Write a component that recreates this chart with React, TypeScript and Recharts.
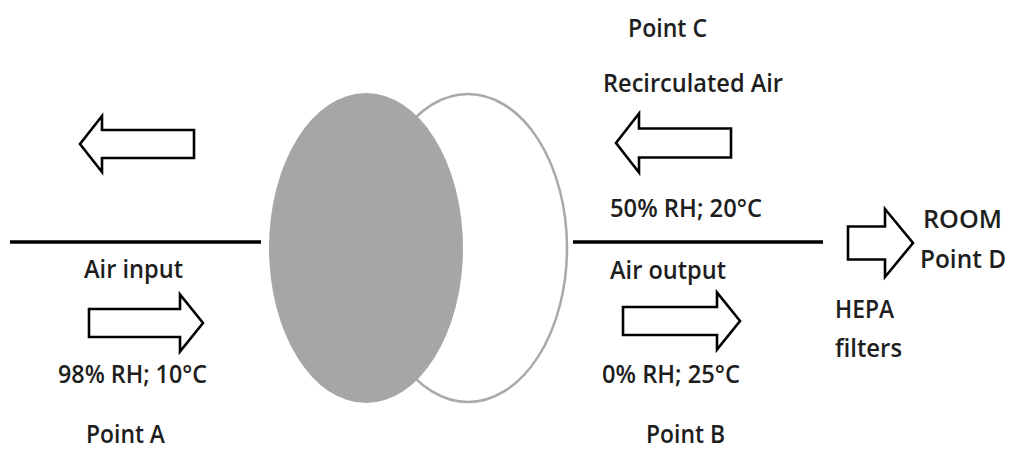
import { ScatterChart, Scatter, XAxis, YAxis, ReferenceLine } from "recharts";

const CHART_W = 1014;
const CHART_H = 451;

// diagram coordinates (x to the right, y downward, 1 unit = 1 px)
const labels = [
  { text: "Point C", x: 628, y: 37, w: 79 },
  { text: "Recirculated Air", x: 603, y: 92, w: 180 },
  { text: "50% RH; 20°C", x: 610, y: 217, w: 152 },
  { text: "Air output", x: 610, y: 279, w: 116 },
  { text: "0% RH; 25°C", x: 602, y: 383, w: 138 },
  { text: "Point B", x: 646, y: 443, w: 79 },
  { text: "ROOM", x: 923, y: 228, w: 79 },
  { text: "Point D", x: 920, y: 268, w: 86 },
  { text: "HEPA", x: 835, y: 318, w: 59 },
  { text: "filters", x: 835, y: 357, w: 67 },
  { text: "Air input", x: 84, y: 278, w: 99 },
  { text: "98% RH; 10°C", x: 58, y: 383, w: 149 },
  { text: "Point A", x: 86, y: 443, w: 79 },
];

// tip x, centre y, tail x, head base x, body half-height, head half-height
const arrows = [
  { x: 80, y: 144, tail: 194, base: 102, bh: 14, hh: 28 },
  { x: 616, y: 143, tail: 731, base: 639, bh: 14.5, hh: 29.5 },
  { x: 203, y: 323, tail: 89, base: 180, bh: 14, hh: 28.5 },
  { x: 740, y: 321, tail: 623, base: 717, bh: 14, hh: 28.5 },
  { x: 913, y: 243, tail: 848, base: 885, bh: 16.5, hh: 34 },
];

const wheels = [
  { x: 468, y: 248, rx: 99, ry: 154, filled: false },
  { x: 366, y: 248, rx: 97, ry: 155, filled: true },
];

const ducts = [
  { x1: 10, x2: 261, y: 242 },
  { x1: 573, x2: 823, y: 242 },
];

const PX = 1; // chart width / domain width

const LabelShape = (props: any) => {
  const { cx, cy, payload } = props;
  return (
    <text
      x={cx}
      y={cy}
      textLength={payload.w * PX}
      lengthAdjust="spacingAndGlyphs"
      fontFamily="'Open Sans', sans-serif"
      fontWeight={600}
      fontSize={26}
      fill="#1e1e1e"
    >
      {payload.text}
    </text>
  );
};

const ArrowShape = (props: any) => {
  const { cx, cy, payload } = props;
  const tail = cx + (payload.tail - payload.x) * PX;
  const base = cx + (payload.base - payload.x) * PX;
  const bh = payload.bh * PX;
  const hh = payload.hh * PX;
  const pts = [
    [tail, cy - bh],
    [base, cy - bh],
    [base, cy - hh],
    [cx, cy],
    [base, cy + hh],
    [base, cy + bh],
    [tail, cy + bh],
  ]
    .map((p) => p.join(","))
    .join(" ");
  return <polygon points={pts} fill="#fff" stroke="#000" strokeWidth={2.6} strokeLinejoin="miter" />;
};

const WheelShape = (props: any) => {
  const { cx, cy, payload } = props;
  return payload.filled ? (
    <ellipse cx={cx} cy={cy} rx={payload.rx * PX} ry={payload.ry * PX} fill="#a6a6a6" />
  ) : (
    <ellipse cx={cx} cy={cy} rx={payload.rx * PX} ry={payload.ry * PX} fill="#fff" stroke="#a9a9a9" strokeWidth={2.5} />
  );
};

export default function App() {
  return (
    <div style={{ position: "absolute", left: 0, top: 0, background: "#fff" }}>
      <ScatterChart width={CHART_W} height={CHART_H} margin={{ top: 0, right: 0, bottom: 0, left: 0 }}>
        <XAxis type="number" dataKey="x" domain={[0, CHART_W]} hide />
        <YAxis type="number" dataKey="y" domain={[0, CHART_H]} reversed hide />
        {ducts.map((d, i) => (
          <ReferenceLine
            key={i}
            segment={[
              { x: d.x1, y: d.y },
              { x: d.x2, y: d.y },
            ]}
            stroke="#000"
            strokeWidth={3.5}
          />
        ))}
        <Scatter data={wheels} shape={WheelShape} isAnimationActive={false} />
        <Scatter data={arrows} shape={ArrowShape} isAnimationActive={false} />
        <Scatter data={labels} shape={LabelShape} isAnimationActive={false} />
      </ScatterChart>
    </div>
  );
}
